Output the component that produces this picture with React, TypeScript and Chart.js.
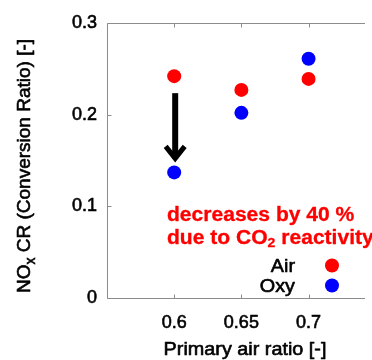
import React, { useEffect, useRef } from "react";
import { Chart, registerables } from "chart.js";

Chart.register(...registerables);

// ---- data ----
const xValues = [0.6, 0.65, 0.7];
const airValues = [0.242, 0.227, 0.239];
const oxyValues = [0.137, 0.202, 0.261];
const xTicks = [0.6, 0.65, 0.7];
const yTicks = [0, 0.1, 0.2, 0.3];
const seriesNames = ["Air", "Oxy"];
const seriesColors = ["#ff0000", "#0000ff"];
const xTitle = "Primary air ratio [-]";
const yTitleParts = ["NO", "x", " CR (Conversion Ratio) [-]"];
const noteLine1 = "decreases by 40 %";
const noteLine2Parts = ["due to CO", "2", " reactivity"];

const FAMILY = '"Liberation Sans", Arial, Helvetica, sans-serif';
const AXIS_COLOR = "#8c8c8c";
const TEXT_STROKE = 0.6;

type Run = { text: string; font: string; dy: number };

function runsWidth(ctx: CanvasRenderingContext2D, runs: Run[]) {
  let w = 0;
  for (const r of runs) {
    ctx.font = r.font;
    w += ctx.measureText(r.text).width;
  }
  return w;
}

function drawRuns(
  ctx: CanvasRenderingContext2D,
  runs: Run[],
  x: number,
  y: number,
  sx: number,
  color: string,
  stroke = 0
) {
  ctx.save();
  ctx.translate(x, y);
  ctx.scale(sx, 1);
  ctx.fillStyle = color;
  ctx.strokeStyle = color;
  ctx.lineWidth = stroke;
  ctx.lineJoin = "round";
  ctx.textBaseline = "alphabetic";
  ctx.textAlign = "left";
  let cx = 0;
  for (const r of runs) {
    ctx.font = r.font;
    ctx.fillText(r.text, cx, r.dy);
    if (stroke > 0) ctx.strokeText(r.text, cx, r.dy);
    cx += ctx.measureText(r.text).width;
  }
  ctx.restore();
}

const overlay = {
  id: "overlay",
  afterDraw(chart: any) {
    const ctx: CanvasRenderingContext2D = chart.ctx;
    const { left, top, right, bottom } = chart.chartArea;
    const xs = chart.scales.x;
    const ys = chart.scales.y;
    ctx.save();

    // frame: left, bottom, top
    ctx.strokeStyle = AXIS_COLOR;
    ctx.lineWidth = 1;
    ctx.beginPath();
    const l = Math.round(left) + 0.5;
    const t = Math.round(top) + 0.5;
    const b = Math.round(bottom) + 0.5;
    ctx.moveTo(l, t);
    ctx.lineTo(l, b);
    ctx.lineTo(right, b);
    ctx.moveTo(l, t);
    ctx.lineTo(right, t);
    // inward ticks
    xTicks.forEach((v) => {
      const px = Math.round(xs.getPixelForValue(v)) + 0.5;
      ctx.moveTo(px, t);
      ctx.lineTo(px, t + 4);
      ctx.moveTo(px, b);
      ctx.lineTo(px, b - 4);
    });
    yTicks.forEach((v) => {
      const py = Math.round(ys.getPixelForValue(v)) + 0.5;
      ctx.moveTo(l, py);
      ctx.lineTo(l + 4, py);
    });
    ctx.stroke();

    // arrow from Air to Oxy at first x
    const ax = xs.getPixelForValue(xValues[0]) + 1;
    const yStart = ys.getPixelForValue(airValues[0]) + 17;
    const yTip = ys.getPixelForValue(oxyValues[0]) - 10;
    ctx.strokeStyle = "#000";
    ctx.lineWidth = 6;
    ctx.lineCap = "butt";
    ctx.beginPath();
    ctx.moveTo(ax, yStart);
    ctx.lineTo(ax, yTip - 4);
    ctx.stroke();
    ctx.lineWidth = 5;
    ctx.lineJoin = "miter";
    ctx.beginPath();
    ctx.moveTo(ax - 9.5, yTip - 16);
    ctx.lineTo(ax, yTip - 4);
    ctx.lineTo(ax + 9.5, yTip - 16);
    ctx.stroke();

    // annotation text
    const boldF = `bold 19.5px ${FAMILY}`;
    const boldSub = `bold 13px ${FAMILY}`;
    drawRuns(ctx, [{ text: noteLine1, font: boldF, dy: 0 }], 167, 221, 1.08, "#ff0000", 0.3);
    drawRuns(
      ctx,
      [
        { text: noteLine2Parts[0], font: boldF, dy: 0 },
        { text: noteLine2Parts[1], font: boldSub, dy: 3 },
        { text: noteLine2Parts[2], font: boldF, dy: 0 },
      ],
      167,
      244,
      1.08,
      "#ff0000",
      0.3
    );

    // legend
    const legF = `18px ${FAMILY}`;
    const legendRight = 295;
    const legendY = [272, 292];
    const dotX = 332;
    seriesNames.forEach((name, i) => {
      const runs = [{ text: name, font: legF, dy: 0 }];
      const w = runsWidth(ctx, runs) * 1.1;
      drawRuns(ctx, runs, legendRight - w, legendY[i], 1.1, "#000", TEXT_STROKE);
      ctx.fillStyle = seriesColors[i];
      ctx.beginPath();
      ctx.arc(dotX, legendY[i] - 6.5, 7, 0, Math.PI * 2);
      ctx.fill();
    });

    // x title
    const titleF = `18px ${FAMILY}`;
    const xr = [{ text: xTitle, font: titleF, dy: 0 }];
    const xw = runsWidth(ctx, xr) * 1.1;
    drawRuns(ctx, xr, 245 - xw / 2, 355, 1.1, "#000", TEXT_STROKE);

    // y title (rotated)
    const yF = `19px ${FAMILY}`;
    const ySub = `14px ${FAMILY}`;
    const yr = [
      { text: yTitleParts[0], font: yF, dy: 0 },
      { text: yTitleParts[1], font: ySub, dy: 5 },
      { text: yTitleParts[2], font: yF, dy: 0 },
    ];
    const yw = runsWidth(ctx, yr);
    ctx.save();
    ctx.translate(30, 166);
    ctx.rotate(-Math.PI / 2);
    drawRuns(ctx, yr, -yw / 2, 0, 1, "#000", TEXT_STROKE);
    ctx.restore();

    ctx.restore();
  },
};

export default function App() {
  const ref = useRef<HTMLCanvasElement | null>(null);

  useEffect(() => {
    const canvas = ref.current;
    if (!canvas) return;
    const chart = new Chart(canvas, {
      type: "scatter",
      data: {
        datasets: [
          {
            label: seriesNames[0],
            data: xValues.map((x, i) => ({ x, y: airValues[i] })),
            backgroundColor: seriesColors[0],
            borderWidth: 0,
            pointRadius: 7,
            pointHoverRadius: 7,
          },
          {
            label: seriesNames[1],
            data: xValues.map((x, i) => ({ x, y: oxyValues[i] })),
            backgroundColor: seriesColors[1],
            borderWidth: 0,
            pointRadius: 7,
            pointHoverRadius: 7,
          },
        ],
      },
      options: {
        animation: false,
        responsive: false,
        maintainAspectRatio: false,
        events: [],
        layout: { padding: { top: 23, right: 0, left: 0, bottom: 0 } },
        plugins: { legend: { display: false }, tooltip: { enabled: false } },
        scales: {
          x: {
            type: "linear",
            min: 0.55,
            max: 0.742,
            afterBuildTicks: (s: any) => {
              s.ticks = xTicks.map((v) => ({ value: v }));
            },
            afterFit: (s: any) => {
              s.height = 62;
            },
            grid: { display: false, drawTicks: false },
            border: { display: false },
            ticks: {
              padding: 14,
              color: "#000",
              textStrokeColor: "#000",
              textStrokeWidth: TEXT_STROKE,
              font: { family: FAMILY, size: 18 },
              maxRotation: 0,
              autoSkip: false,
              callback: (v: any) => String(v),
            },
          },
          y: {
            type: "linear",
            min: 0,
            max: 0.3,
            afterBuildTicks: (s: any) => {
              s.ticks = yTicks.map((v) => ({ value: v }));
            },
            afterFit: (s: any) => {
              s.width = 107;
            },
            grid: { display: false, drawTicks: false },
            border: { display: false },
            ticks: {
              padding: 10,
              color: "#000",
              textStrokeColor: "#000",
              textStrokeWidth: TEXT_STROKE,
              font: { family: FAMILY, size: 18 },
              callback: (v: any) => String(v),
            },
          },
        },
      },
      plugins: [overlay],
    });
    return () => chart.destroy();
  }, []);

  return (
    <div style={{ position: "fixed", left: 0, top: 0, width: 372, height: 360, background: "#fff" }}>
      <canvas ref={ref} width={372} height={360} style={{ width: 372, height: 360, display: "block" }} />
    </div>
  );
}
